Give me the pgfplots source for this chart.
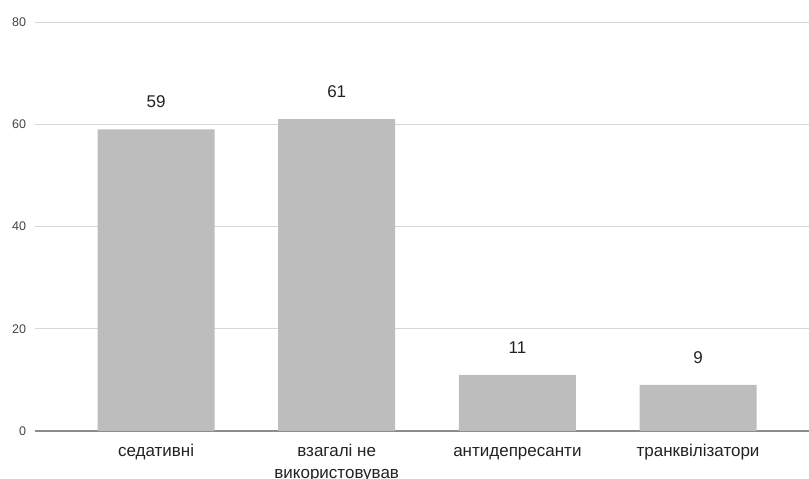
\documentclass[border=0pt]{standalone}
\usepackage{pgfplots}
\pgfplotsset{compat=1.18}
\usepackage{fontspec}
\setmainfont{Liberation Sans}

\definecolor{barfill}{HTML}{BDBDBD}
\definecolor{gridc}{HTML}{D6D6D6}
\definecolor{basec}{HTML}{8C8C8C}
\definecolor{ticktext}{HTML}{444444}
\definecolor{labeltext}{HTML}{222222}

\begin{document}
\begin{tikzpicture}
\begin{axis}[
  at={(35bp,48bp)}, anchor=south west,
  scale only axis,
  width=774bp, height=409bp,
  xmin=-0.67, xmax=3.614,
  ymin=0, ymax=80,
  ytick={20,40,60,80},
  extra y ticks={0},
  extra y tick labels={0},
  extra y tick style={grid style={color=basec, line width=1.3bp}},
  ymajorgrids,
  grid style={color=gridc, line width=0.7bp},
  axis line style={draw=none},
  major tick length=0pt,
  xtick=data,
  xticklabels={\strut седативні, {\strut взагалі не\\\strut використовував}, \strut антидепресанти, \strut транквілізатори},
  xticklabel style={align=center, anchor=north, font=\fontsize{17bp}{22bp}\selectfont, text=labeltext, yshift=-6.8bp},
  yticklabel style={font=\fontsize{12.5bp}{14bp}\selectfont, text=ticktext, xshift=-5.5bp},
  /pgf/number format/assume math mode=true,
  ybar, bar width=117bp,
  nodes near coords,
  every node near coord/.append style={font=\fontsize{17bp}{20bp}\selectfont, text=labeltext, anchor=south, yshift=17.7bp},
]
\addplot[fill=barfill, draw=none] coordinates {(0,59) (1,61) (2,11) (3,9)};
\end{axis}
\pgfresetboundingbox
\useasboundingbox (0,0) rectangle (809bp,479bp);
\end{tikzpicture}
\end{document}
